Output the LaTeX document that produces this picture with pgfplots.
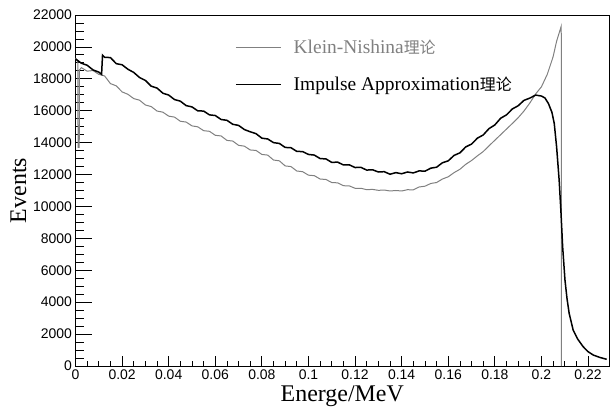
\documentclass[border=0pt]{standalone}
\usepackage{fontspec}
\setmainfont{Liberation Serif}
\newfontfamily\ticksans{Liberation Sans}
\newfontfamily\cjk{Noto Sans CJK SC}
\usepackage{pgfplots}
\usepackage{pgfplotstable}
\pgfplotsset{compat=1.18}
\definecolor{kngray}{RGB}{128,128,128}

\pgfplotstableread{
x y
0.0000 19250
0.0025 18980
0.0050 18850
0.0075 18560
0.0100 18420
0.0112 18280
0.0116 19480
0.0125 19350
0.0150 19330
0.0175 18950
0.0200 18880
0.0225 18600
0.0250 18400
0.0275 18080
0.0300 17900
0.0325 17540
0.0350 17420
0.0375 17100
0.0400 16980
0.0425 16700
0.0450 16600
0.0475 16320
0.0500 16240
0.0525 15990
0.0550 15980
0.0575 15740
0.0600 15700
0.0625 15450
0.0650 15400
0.0675 15150
0.0700 15080
0.0725 14820
0.0750 14680
0.0775 14560
0.0800 14280
0.0825 14230
0.0850 14000
0.0875 13950
0.0900 13700
0.0925 13680
0.0950 13450
0.0975 13440
0.1000 13260
0.1025 13220
0.1050 13000
0.1075 12980
0.1100 12760
0.1125 12780
0.1150 12600
0.1175 12610
0.1200 12440
0.1225 12450
0.1250 12280
0.1275 12300
0.1300 12160
0.1325 12180
0.1350 12020
0.1375 12120
0.1400 12050
0.1425 12160
0.1450 12100
0.1475 12230
0.1500 12210
0.1525 12400
0.1550 12460
0.1575 12740
0.1600 12860
0.1625 13200
0.1650 13360
0.1675 13730
0.1700 13910
0.1725 14280
0.1750 14480
0.1775 14880
0.1800 15110
0.1825 15530
0.1850 15740
0.1875 16110
0.1900 16310
0.1925 16650
0.1950 16790
0.1975 16980
0.2000 16920
0.2015 16800
0.2030 16450
0.2045 15900
0.2055 15200
0.2065 13750
0.2076 11660
0.2084 9590
0.2091 7480
0.2101 5390
0.2110 4200
0.2119 3300
0.2136 2260
0.2155 1700
0.2179 1210
0.2200 900
0.2222 690
0.2250 540
0.2280 420
}\iadata

\pgfplotstableread{
x y
0.0000 19300
0.0010 19050
0.0011 13700
0.0016 13700
0.0017 18550
0.0025 18700
0.0050 18480
0.0075 18520
0.0100 18280
0.0125 18180
0.0150 17700
0.0175 17560
0.0200 17180
0.0225 17030
0.0250 16760
0.0275 16660
0.0300 16360
0.0325 16260
0.0350 15980
0.0375 15910
0.0400 15660
0.0425 15600
0.0450 15340
0.0475 15290
0.0500 15050
0.0525 14990
0.0550 14750
0.0575 14710
0.0600 14460
0.0625 14420
0.0650 14140
0.0675 14100
0.0700 13830
0.0725 13780
0.0750 13540
0.0775 13510
0.0800 13260
0.0825 13220
0.0850 12910
0.0875 12860
0.0900 12540
0.0925 12500
0.0950 12220
0.0975 12180
0.1000 11960
0.1025 11930
0.1050 11720
0.1075 11690
0.1100 11500
0.1125 11480
0.1150 11300
0.1175 11290
0.1200 11140
0.1225 11140
0.1250 11050
0.1275 11070
0.1300 11010
0.1325 11030
0.1350 10970
0.1375 11000
0.1400 10970
0.1425 11050
0.1450 11040
0.1475 11220
0.1500 11270
0.1525 11440
0.1550 11500
0.1575 11720
0.1600 11860
0.1625 12120
0.1650 12330
0.1675 12640
0.1700 12880
0.1725 13170
0.1750 13440
0.1775 13800
0.1800 14150
0.1825 14500
0.1850 14850
0.1875 15200
0.1900 15560
0.1925 15980
0.1950 16480
0.1975 17050
0.2000 17500
0.2025 18280
0.2050 19380
0.2065 20350
0.2085 21300
0.2086 0
}\kndata

\begin{document}
\begin{tikzpicture}
\begin{axis}[
  scale only axis, width=533.5bp, height=351bp,
  xmin=0, xmax=0.229, ymin=0, ymax=22000,
  axis line style={line width=0.8bp},
  tick align=inside, xtick pos=bottom, ytick pos=left,
  xtick={0,0.02,0.04,0.06,0.08,0.1,0.12,0.14,0.16,0.18,0.2,0.22},
  ytick={0,2000,...,22000},
  minor x tick num=3, minor y tick num=3,
  major tick length=16bp, minor tick length=8bp,
  xtick style={/pgfplots/major tick length=10bp,/pgfplots/minor tick length=5bp},
  tick style={line width=0.8bp, black},
  scaled ticks=false,
  x tick label style={/pgf/number format/.cd, fixed, precision=2},
  y tick label style={/pgf/number format/.cd, 1000 sep={}},
  /pgf/number format/assume math mode=true,
  ticklabel style={font=\ticksans\fontsize{14}{16}\selectfont},
  xlabel={Energe/MeV}, ylabel={Events},
  label style={font=\fontsize{24}{28}\selectfont},
  legend style={draw=none, fill=none, at={(0.299,0.935)}, anchor=north west,
    font=\fontsize{19.5}{22}\selectfont, row sep=18bp, inner sep=0pt,
    /tikz/every odd column/.append style={column sep=10bp}},
  legend cell align=left,
  legend image code/.code={\draw[#1] (0bp,0bp) -- (45bp,0bp);},
]
\addplot[kngray, line width=1bp] table[x=x,y=y] {\kndata};
\addlegendentry{\textcolor{kngray}{Klein-Nishina{\cjk\fontsize{16}{20}\selectfont 理论}}}
\addplot[black, line width=1.5bp] table[x=x,y=y] {\iadata};
\addlegendentry{Impulse Approximation{\cjk\fontsize{16}{20}\selectfont 理论}}
\end{axis}
\pgfresetboundingbox
\path ([shift={(-75.5bp,-42bp)}]current axis.south west) rectangle ([shift={(3bp,15bp)}]current axis.north east);
\end{tikzpicture}
\end{document}
